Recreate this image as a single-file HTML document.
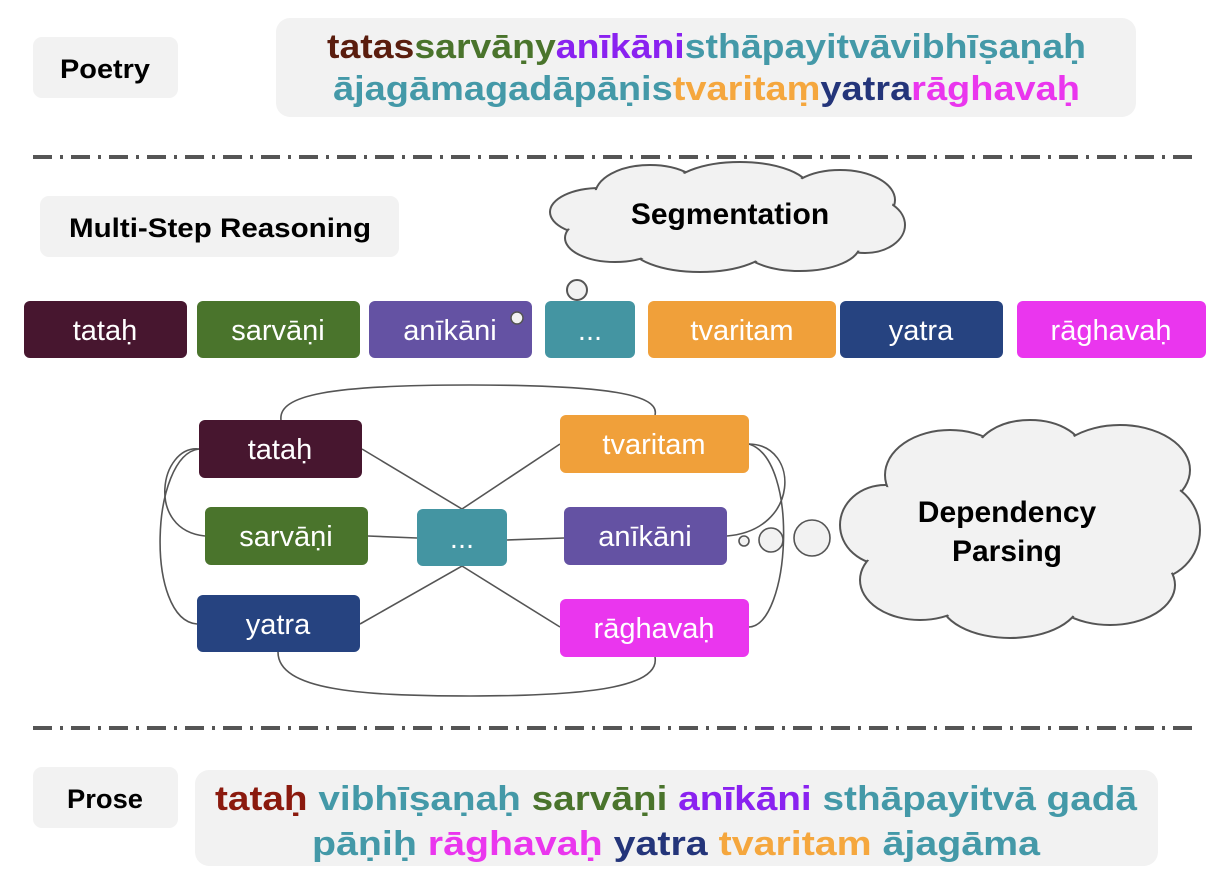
<!DOCTYPE html>
<html><head><meta charset="utf-8"><style>
html,body{margin:0;padding:0;background:#fff}
svg{display:block}
text{font-family:"Liberation Sans","DejaVu Sans",sans-serif}
</style></head><body>
<svg width="1226" height="896" viewBox="0 0 1226 896" xmlns="http://www.w3.org/2000/svg">
<rect x="33" y="37" width="145" height="61" rx="9" fill="#f2f2f2"/>
<text x="105" y="78" font-size="27" font-weight="bold" text-anchor="middle" fill="#000" textLength="90" lengthAdjust="spacingAndGlyphs">Poetry</text>
<rect x="276" y="18" width="860" height="99" rx="14" fill="#f2f2f2"/>
<text y="58" x="327" font-size="34" font-weight="bold" textLength="759" lengthAdjust="spacingAndGlyphs"><tspan fill="#5a1d0e">tatas</tspan><tspan fill="#4a742c">sarvāṇy</tspan><tspan fill="#8a22f0">anīkāni</tspan><tspan fill="#4499a8">sthāpayitvāvibhīṣaṇaḥ</tspan></text>
<text y="100" x="333" font-size="34" font-weight="bold" textLength="747" lengthAdjust="spacingAndGlyphs"><tspan fill="#4499a8">ājagāmagadāpāṇis</tspan><tspan fill="#f5a73e">tvaritaṃ</tspan><tspan fill="#24357a">yatra</tspan><tspan fill="#ea36ee">rāghavaḥ</tspan></text>

<line x1="33" y1="157" x2="1195" y2="157" stroke="#555" stroke-width="4" stroke-dasharray="19 8 3 8"/>
<line x1="33" y1="728" x2="1195" y2="728" stroke="#555" stroke-width="4" stroke-dasharray="19 8 3 8"/>

<rect x="40" y="196" width="359" height="61" rx="9" fill="#f2f2f2"/>
<text x="220" y="237" font-size="27" font-weight="bold" text-anchor="middle" fill="#000" textLength="302" lengthAdjust="spacingAndGlyphs">Multi-Step Reasoning</text>

<g stroke="#555" stroke-width="2" fill="#f2f2f2">
<ellipse cx="600" cy="212" rx="50" ry="24"/>
<ellipse cx="650" cy="195" rx="55" ry="30"/>
<ellipse cx="740" cy="190" rx="70" ry="28"/>
<ellipse cx="840" cy="200" rx="55" ry="30"/>
<ellipse cx="865" cy="225" rx="40" ry="28"/>
<ellipse cx="800" cy="245" rx="60" ry="26"/>
<ellipse cx="700" cy="245" rx="70" ry="27"/>
<ellipse cx="615" cy="238" rx="50" ry="24"/>
</g>
<g fill="#f2f2f2">
<ellipse cx="600" cy="212" rx="48" ry="22"/>
<ellipse cx="650" cy="195" rx="53" ry="28"/>
<ellipse cx="740" cy="190" rx="68" ry="26"/>
<ellipse cx="840" cy="200" rx="53" ry="28"/>
<ellipse cx="865" cy="225" rx="38" ry="26"/>
<ellipse cx="800" cy="245" rx="58" ry="24"/>
<ellipse cx="700" cy="245" rx="68" ry="25"/>
<ellipse cx="615" cy="238" rx="48" ry="22"/>
<rect x="610" y="195" width="250" height="50"/>
</g>
<text x="730" y="224" font-size="30" font-weight="bold" text-anchor="middle" fill="#000">Segmentation</text>
<circle cx="577" cy="290" r="10" fill="#f2f2f2" stroke="#555" stroke-width="2"/>

<g font-size="29" fill="#fff" text-anchor="middle">
<rect x="24" y="301" width="163" height="57" rx="6" fill="#47162f"/><text x="105" y="340" fill="#fff">tataḥ</text>
<rect x="197" y="301" width="163" height="57" rx="6" fill="#4a742c"/><text x="278" y="340" fill="#fff">sarvāṇi</text>
<rect x="369" y="301" width="163" height="57" rx="6" fill="#6452a3"/><text x="450" y="340" fill="#fff">anīkāni</text>
<rect x="545" y="301" width="90" height="57" rx="6" fill="#4495a2"/><text x="590" y="340" fill="#fff">...</text>
<rect x="648" y="301" width="188" height="57" rx="6" fill="#f0a03a"/><text x="742" y="340" fill="#fff">tvaritam</text>
<rect x="840" y="301" width="163" height="57" rx="6" fill="#264380"/><text x="921" y="340" fill="#fff">yatra</text>
<rect x="1017" y="301" width="189" height="57" rx="6" fill="#ea36ee"/><text x="1111" y="340" fill="#fff">rāghavaḥ</text>
</g>
<circle cx="517" cy="318" r="6" fill="#f2f2f2" stroke="#555" stroke-width="1.5"/>

<g fill="none" stroke="#555" stroke-width="1.6">
<path d="M281 420 C278 395 330 385 470 385 C610 385 660 395 655 415"/>
<path d="M278 652 C278 690 360 696 470 696 C600 696 660 685 655 657"/>
<path d="M199 449 C160 445 145 530 205 536"/>
<path d="M199 449 C150 455 145 620 197 624"/>
<path d="M749 444 C800 445 800 530 727 536"/>
<path d="M749 444 C800 460 790 625 749 627"/>
<path d="M362 449 L462 509 L560 444"/>
<path d="M360 624 L462 566 L560 627"/>
<path d="M368 536 L417 538"/>
<path d="M507 540 L564 538"/>
</g>

<g font-size="29" text-anchor="middle">
<rect x="199" y="420" width="163" height="58" rx="6" fill="#47162f"/><text x="280" y="459" fill="#fff">tataḥ</text>
<rect x="205" y="507" width="163" height="58" rx="6" fill="#4a742c"/><text x="286" y="546" fill="#fff">sarvāṇi</text>
<rect x="197" y="595" width="163" height="57" rx="6" fill="#264380"/><text x="278" y="634" fill="#fff">yatra</text>
<rect x="417" y="509" width="90" height="57" rx="6" fill="#4495a2"/><text x="462" y="548" fill="#fff">...</text>
<rect x="560" y="415" width="189" height="58" rx="6" fill="#f0a03a"/><text x="654" y="454" fill="#fff">tvaritam</text>
<rect x="564" y="507" width="163" height="58" rx="6" fill="#6452a3"/><text x="645" y="546" fill="#fff">anīkāni</text>
<rect x="560" y="599" width="189" height="58" rx="6" fill="#ea36ee"/><text x="654" y="638" fill="#fff">rāghavaḥ</text>
</g>

<g fill="#f2f2f2" stroke="#555" stroke-width="1.6">
<circle cx="744" cy="541" r="5"/>
<circle cx="771" cy="540" r="12"/>
<circle cx="812" cy="538" r="18"/>
</g>
<g stroke="#555" stroke-width="2" fill="#f2f2f2">
<ellipse cx="885" cy="525" rx="45" ry="40"/>
<ellipse cx="950" cy="475" rx="65" ry="45"/>
<ellipse cx="1030" cy="455" rx="55" ry="35"/>
<ellipse cx="1120" cy="470" rx="70" ry="45"/>
<ellipse cx="1150" cy="530" rx="50" ry="50"/>
<ellipse cx="1110" cy="585" rx="65" ry="40"/>
<ellipse cx="1010" cy="600" rx="70" ry="38"/>
<ellipse cx="920" cy="580" rx="60" ry="40"/>
</g>
<g fill="#f2f2f2">
<ellipse cx="885" cy="525" rx="43" ry="38"/>
<ellipse cx="950" cy="475" rx="63" ry="43"/>
<ellipse cx="1030" cy="455" rx="53" ry="33"/>
<ellipse cx="1120" cy="470" rx="68" ry="43"/>
<ellipse cx="1150" cy="530" rx="48" ry="48"/>
<ellipse cx="1110" cy="585" rx="63" ry="38"/>
<ellipse cx="1010" cy="600" rx="68" ry="36"/>
<ellipse cx="920" cy="580" rx="58" ry="38"/>
<rect x="900" y="480" width="230" height="110"/>
</g>
<text x="1007" y="522" font-size="30" font-weight="bold" text-anchor="middle" fill="#000">Dependency</text>
<text x="1007" y="561" font-size="30" font-weight="bold" text-anchor="middle" fill="#000">Parsing</text>

<rect x="33" y="767" width="145" height="61" rx="9" fill="#f2f2f2"/>
<text x="105" y="808" font-size="27" font-weight="bold" text-anchor="middle" fill="#000" textLength="76" lengthAdjust="spacingAndGlyphs">Prose</text>
<rect x="195" y="770" width="963" height="96" rx="14" fill="#f2f2f2"/>
<text y="810" x="215" font-size="34" font-weight="bold" textLength="922" lengthAdjust="spacingAndGlyphs"><tspan fill="#8b1a0e">tataḥ</tspan> <tspan fill="#4499a8">vibhīṣaṇaḥ</tspan> <tspan fill="#4a742c">sarvāṇi</tspan> <tspan fill="#8a22f0">anīkāni</tspan> <tspan fill="#4499a8">sthāpayitvā gadā</tspan></text>
<text y="855" x="312" font-size="34" font-weight="bold" textLength="728" lengthAdjust="spacingAndGlyphs"><tspan fill="#4499a8">pāṇiḥ</tspan> <tspan fill="#ea36ee">rāghavaḥ</tspan> <tspan fill="#24357a">yatra</tspan> <tspan fill="#f5a73e">tvaritam</tspan> <tspan fill="#4499a8">ājagāma</tspan></text>
</svg>
</body></html>
